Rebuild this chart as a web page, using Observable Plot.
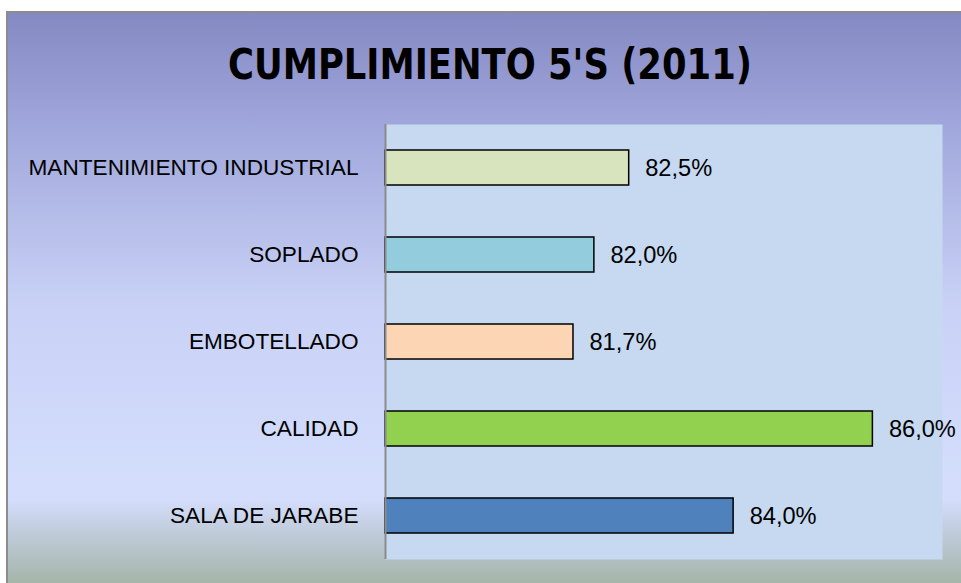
<!DOCTYPE html>
<html>
<head>
<meta charset="utf-8">
<script src="https://cdn.jsdelivr.net/npm/d3@7"></script>
<script src="https://cdn.jsdelivr.net/npm/@observablehq/plot@0.6"></script>
<style>
  html, body { margin: 0; padding: 0; background: #fff; overflow: hidden; }
  #wrap { position: relative; width: 961px; height: 583px; }
  #bg { position: absolute; left: 6px; top: 11px; width: 970px; height: 590px;
        border: 2px solid #8c8c8c; box-sizing: border-box;
        background: linear-gradient(to bottom, #8589c3 0%, #a1a8dc 20%, #c9d2f6 50%, #d4defc 83%, #c6d0e4 87%, #b2c0c2 93%, #9bae98 100%); }
  #title { position: absolute; left: 0; width: 980px; top: 43px; text-align: center;
           font-family: "DejaVu Sans Condensed", "DejaVu Sans", sans-serif; font-weight: bold;
           font-size: 40px; color: #000; line-height: 1; white-space: nowrap;
           transform: scaleY(1.08); transform-origin: center top; }
  #chart { position: absolute; left: 0; top: 0; }
</style>
</head>
<body>
<div id="wrap">
  <div id="bg"></div>
  <div id="title">CUMPLIMIENTO 5'S (2011)</div>
  <div id="chart"></div>
</div>
<script>
const categories = ["MANTENIMIENTO INDUSTRIAL", "SOPLADO", "EMBOTELLADO", "CALIDAD", "SALA DE JARABE"];
const values = [82.5, 82.0, 81.7, 86.0, 84.0];
const colors = ["#d7e4bd", "#93cddd", "#fcd5b5", "#92d050", "#4f81bd"];
const valueLabels = ["82,5%", "82,0%", "81,7%", "86,0%", "84,0%"];

const data = categories.map((c, i) => ({cat: c, value: values[i], color: colors[i], label: valueLabels[i]}));

const labelFont = "Liberation Sans";
// fit font size so the longest label matches the reference width
const cv = document.createElement("canvas").getContext("2d");
cv.font = `100px "${labelFont}"`;
const w100 = cv.measureText("MANTENIMIENTO INDUSTRIAL").width;
const fs = Math.min(24, 330 / w100 * 100);

cv.font = `bold 100px "DejaVu Sans Condensed"`;
const tw = cv.measureText("CUMPLIMIENTO 5'S (2011)").width;
document.getElementById("title").style.fontSize = Math.min(44, 524 / tw * 100) + "px";

const chart = Plot.plot({
  width: 961,
  height: 583,
  marginLeft: 385,
  marginRight: 19,
  marginTop: 124,
  marginBottom: 24,
  style: {background: "transparent", fontFamily: labelFont, fontSize: fs + "px", color: "#000"},
  x: {domain: [79, 87], axis: null},
  y: {domain: categories, paddingInner: 0.6, paddingOuter: 0.3, label: null, tickSize: 0, tickPadding: 27},
  marks: [
    Plot.frame({fill: "#c6d9f1", stroke: null}),
    Plot.barX(data, {x1: 79, x2: "value", y: "cat", fill: "color", stroke: "#000", strokeWidth: 1.5}),
    Plot.ruleX([79], {stroke: "#8c8c8c", strokeWidth: 2}),
    Plot.text(data, {x: "value", y: "cat", text: "label", textAnchor: "start", dx: 16, fill: "#000", fontSize: fs + 1})
  ]
});
document.getElementById("chart").appendChild(chart);
</script>
</body>
</html>
